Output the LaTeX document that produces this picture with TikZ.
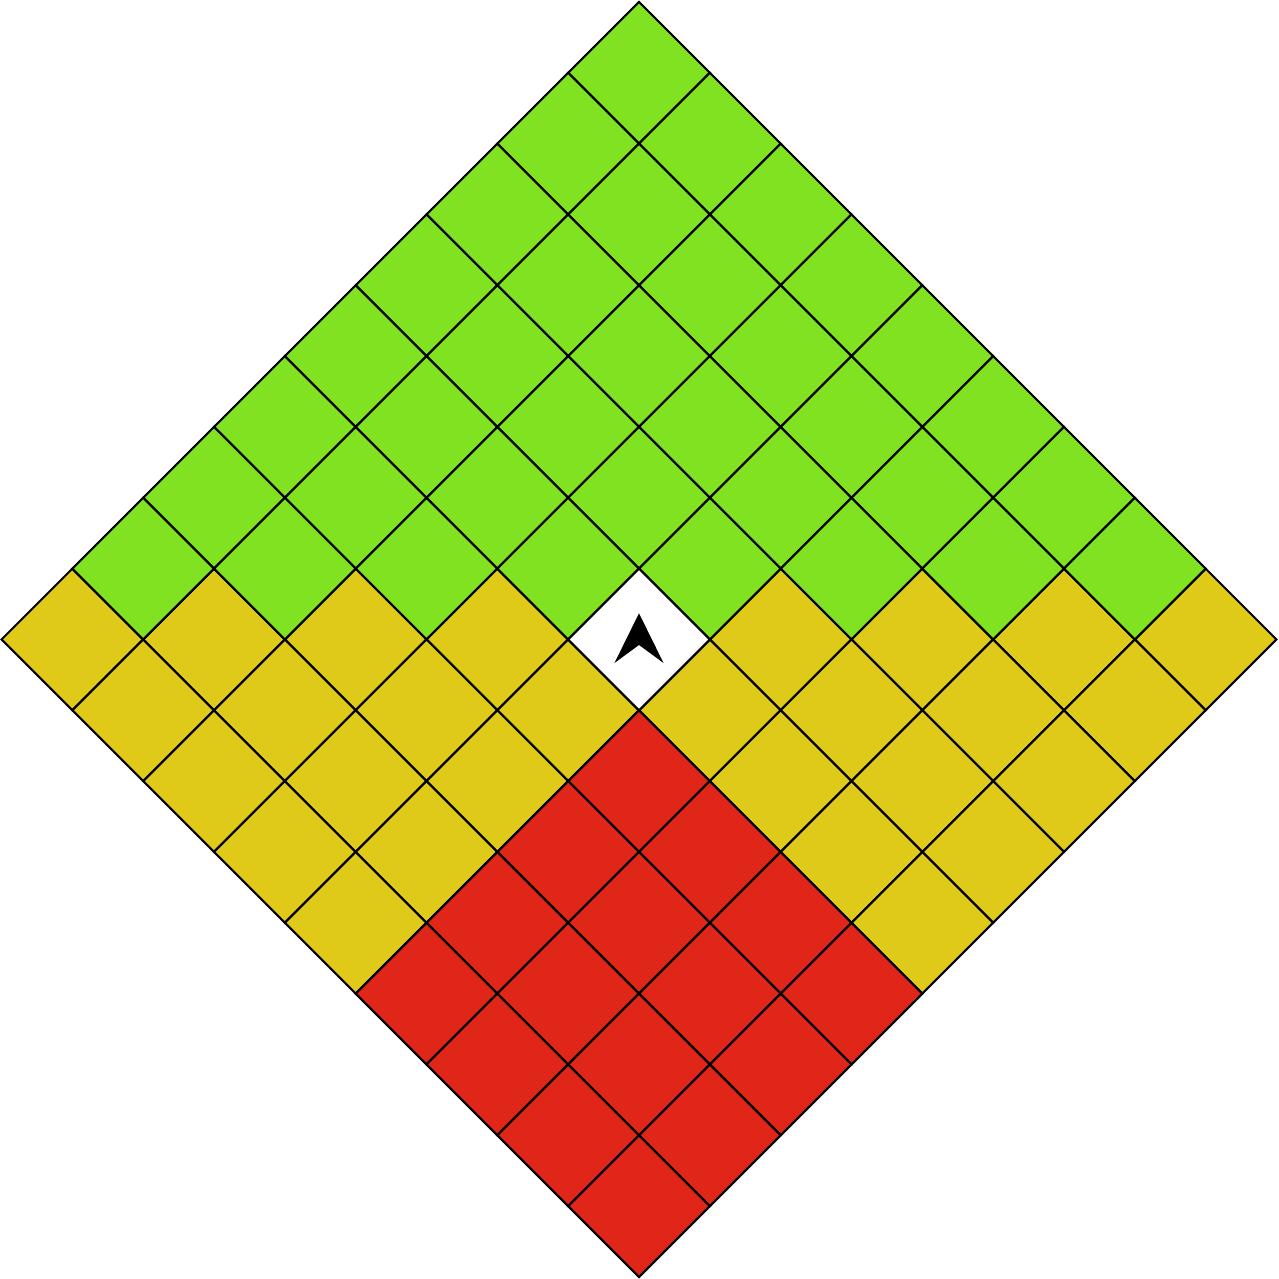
\documentclass[tikz,border=0pt]{standalone}
\usepackage{tikz}
\usepackage{xcolor}
\definecolor{farzone}{RGB}{128,226,32}
\definecolor{sidezone}{RGB}{223,202,26}
\definecolor{backzone}{RGB}{224,38,24}
\tikzstyle{tile}  = [draw=black, line width=0.6pt, line join=miter]
\tikzstyle{ahead} = [tile, fill=farzone]
\tikzstyle{aside} = [tile, fill=sidezone]
\tikzstyle{behind}= [tile, fill=backzone]
\tikzstyle{owncell} = [tile, fill=white]
\newcommand{\tileat}[3]{\draw[#1] (#2,#3) -- ++(1,0) -- ++(0,1) -- ++(-1,0) -- cycle;}

\begin{document}
\begin{tikzpicture}[x={(0.7083cm,-0.7083cm)}, y={(-0.7083cm,-0.7083cm)}]
  \useasboundingbox (-6.39cm,0.02cm) rectangle (6.40cm,-12.77cm);
  % whole board, side cells
  \foreach \u in {0,...,8}{
    \foreach \v in {0,...,8}{
      \tileat{aside}{\u}{\v}
    }
  }
  % cells in front
  \foreach \u [evaluate=\u as \vmax using int(7-\u)] in {0,...,7}{
    \foreach \v in {0,...,\vmax}{
      \tileat{ahead}{\u}{\v}
    }
  }
  % cells behind
  \foreach \u in {5,...,8}{
    \foreach \v in {5,...,8}{
      \tileat{behind}{\u}{\v}
    }
  }
  % own cell and heading
  \tileat{owncell}{4}{4}
  \fill[black, shift={(4.5,4.5)}] (0,0.262cm) -- (0.245cm,-0.235cm) -- (0,-0.055cm) -- (-0.245cm,-0.235cm) -- cycle;
\end{tikzpicture}
\end{document}
